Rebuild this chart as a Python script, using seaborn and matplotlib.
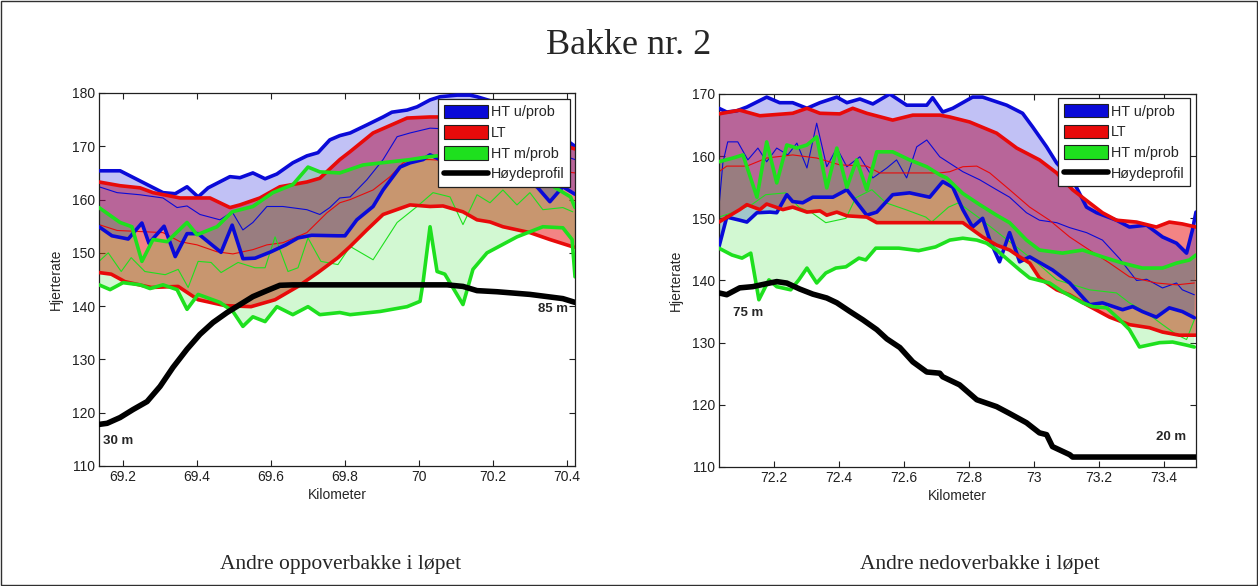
import numpy as np
import matplotlib
matplotlib.use("Agg")
import matplotlib.pyplot as plt
from matplotlib.patches import Patch, Rectangle
from matplotlib.lines import Line2D
import seaborn as sns

# ---------------------------------------------------------------
# Andre oppoverbakke (km 69.1 - 70.4)
# ---------------------------------------------------------------
UP_HU_HI_KM = [69.135, 69.192, 69.308, 69.341, 69.373, 69.403, 69.430, 69.489, 69.516, 69.551, 69.584,
               69.616, 69.659, 69.697, 69.727, 69.759, 69.786, 69.814, 69.859, 69.903, 69.927, 69.968,
               69.995, 70.030, 70.057, 70.103, 70.138, 70.157, 70.219, 70.300, 70.381, 70.422]
UP_HU_HI = [165.4, 165.4, 161.3, 161.1, 162.4, 160.5, 162.2, 164.3, 164.1, 165.0, 163.9,
            164.8, 166.9, 168.2, 168.8, 171.2, 172.0, 172.5, 174.0, 175.5, 176.4, 176.8,
            177.4, 178.7, 179.3, 179.6, 179.6, 179.3, 178.0, 175.0, 172.0, 170.0]

UP_HU_LO_KM = [69.135, 69.170, 69.214, 69.251, 69.270, 69.311, 69.341, 69.373, 69.403, 69.465, 69.495,
               69.524, 69.557, 69.600, 69.640, 69.673, 69.710, 69.781, 69.800, 69.832, 69.876, 69.903,
               69.949, 69.976, 70.011, 70.030, 70.057, 70.150, 70.250, 70.319, 70.354, 70.389, 70.422]
UP_HU_LO = [154.9, 153.2, 152.6, 155.6, 151.8, 155.0, 149.3, 153.6, 153.6, 150.1, 155.2,
            148.9, 149.0, 150.2, 151.5, 152.8, 153.3, 153.2, 153.2, 156.2, 158.7, 161.8,
            166.1, 166.9, 167.5, 168.4, 167.5, 166.0, 164.0, 162.4, 159.6, 162.4, 161.0]

UP_HU_MID_KM = [69.135, 69.184, 69.246, 69.308, 69.346, 69.373, 69.408, 69.462, 69.495, 69.524, 69.551,
                69.589, 69.632, 69.697, 69.732, 69.759, 69.786, 69.814, 69.859, 69.903, 69.941, 69.976,
                70.030, 70.150, 70.300, 70.422]
UP_HU_MID = [162.4, 161.3, 160.9, 160.3, 158.5, 158.8, 157.2, 156.2, 157.7, 154.3, 155.7,
             158.7, 158.7, 158.1, 157.2, 158.5, 160.3, 160.5, 163.7, 167.5, 171.8, 172.5,
             173.4, 173.0, 170.5, 167.5]

UP_LT_HI_KM = [69.135, 69.192, 69.246, 69.281, 69.354, 69.435, 69.489, 69.516, 69.570, 69.624, 69.697,
               69.732, 69.786, 69.814, 69.876, 69.968, 70.030, 70.057, 70.150, 70.250, 70.350, 70.422]
UP_LT_HI = [163.3, 162.6, 162.2, 161.3, 160.3, 160.3, 158.5, 159.0, 160.3, 162.4, 163.3,
            164.0, 167.5, 169.0, 172.5, 175.3, 175.5, 175.5, 175.0, 173.5, 171.0, 169.5]

UP_LT_LO_KM = [69.135, 69.168, 69.205, 69.276, 69.349, 69.403, 69.476, 69.546, 69.611, 69.673, 69.727,
               69.781, 69.814, 69.859, 69.903, 69.976, 70.030, 70.065, 70.119, 70.157, 70.192, 70.227,
               70.300, 70.354, 70.422]
UP_LT_LO = [146.3, 146.0, 144.6, 143.5, 143.7, 141.2, 140.1, 139.9, 141.2, 143.7, 146.3,
            149.1, 151.2, 154.3, 157.2, 159.0, 158.7, 158.8, 157.7, 156.2, 155.8, 154.9,
            153.8, 152.5, 151.0]

UP_LT_MID_KM = [69.135, 69.184, 69.246, 69.308, 69.354, 69.400, 69.454, 69.497, 69.551, 69.589, 69.632,
                69.697, 69.751, 69.786, 69.814, 69.876, 69.922, 69.957, 69.976, 70.030, 70.150, 70.300,
                70.422]
UP_LT_MID = [155.3, 154.2, 154.0, 153.8, 152.1, 151.5, 150.2, 149.8, 150.6, 151.5, 151.9,
             153.8, 157.5, 159.4, 160.0, 161.8, 164.3, 166.9, 167.5, 167.5, 167.0, 166.0,
             165.0]

UP_HM_HI_KM = [69.135, 69.192, 69.224, 69.251, 69.281, 69.319, 69.373, 69.400, 69.454, 69.495, 69.551,
               69.605, 69.659, 69.700, 69.732, 69.786, 69.849, 69.976, 70.022, 70.049, 70.150, 70.250,
               70.350, 70.410, 70.422]
UP_HM_HI = [158.5, 155.7, 154.9, 148.4, 152.5, 152.1, 155.7, 153.4, 154.9, 157.7, 158.7,
            161.3, 162.8, 166.1, 165.2, 165.0, 166.5, 167.5, 168.0, 168.2, 168.0, 166.0,
            163.0, 160.5, 158.5]

UP_HM_LO_KM = [69.135, 69.165, 69.200, 69.246, 69.273, 69.308, 69.346, 69.373, 69.403, 69.462, 69.497,
               69.524, 69.551, 69.584, 69.616, 69.659, 69.700, 69.732, 69.786, 69.814, 69.895, 69.968,
               70.003, 70.011, 70.030, 70.049, 70.070, 70.119, 70.146, 70.184, 70.265, 70.335, 70.389,
               70.414, 70.422]
UP_HM_LO = [144.0, 143.1, 144.4, 144.0, 143.3, 144.0, 143.1, 139.4, 142.2, 140.7, 139.0,
            136.2, 138.0, 137.1, 139.9, 138.4, 139.9, 138.4, 138.8, 138.4, 139.0, 139.9,
            140.9, 144.4, 154.9, 146.5, 146.0, 140.3, 146.9, 150.0, 153.0, 154.9, 154.7,
            152.5, 145.5]

UP_HM_MID_KM = [69.135, 69.160, 69.195, 69.222, 69.259, 69.314, 69.349, 69.376, 69.403, 69.438, 69.465,
                69.511, 69.557, 69.584, 69.611, 69.646, 69.673, 69.700, 69.735, 69.781, 69.814, 69.876,
                69.941, 69.995, 70.038, 70.084, 70.119, 70.157, 70.192, 70.227, 70.265, 70.300, 70.335,
                70.389, 70.416]
UP_HM_MID = [148.4, 150.0, 146.5, 149.1, 146.5, 145.9, 146.9, 143.5, 148.4, 148.2, 146.3,
             148.2, 147.2, 147.2, 153.0, 146.5, 147.2, 152.8, 148.4, 147.8, 151.2, 148.7,
             155.7, 158.7, 161.3, 160.5, 155.3, 160.9, 159.4, 161.8, 159.0, 161.3, 158.1,
             158.5, 157.7]

# terrain height in metres
UP_ELEV_KM = [69.135, 69.157, 69.192, 69.227, 69.265, 69.300, 69.335, 69.373, 69.408, 69.443, 69.481,
              69.516, 69.551, 69.589, 69.624, 69.659, 70.076, 70.119, 70.157, 70.211, 70.300, 70.389,
              70.422]
UP_ELEV_M = [30.0, 30.5, 33.1, 36.7, 40.3, 47.1, 55.7, 63.9, 70.6, 75.9, 80.4,
             84.0, 87.6, 90.3, 92.7, 92.9, 92.9, 92.2, 90.3, 89.8, 88.6, 86.7,
             85.0]

UP_XTICKS = [69.2, 69.4, 69.6, 69.8, 70.0, 70.2, 70.4]
UP_XTICKLABELS = ["69.2", "69.4", "69.6", "69.8", "70", "70.2", "70.4"]
UP_YTICKS = [110, 120, 130, 140, 150, 160, 170, 180]

# ---------------------------------------------------------------
# Andre nedoverbakke (km 72.0 - 73.5)
# ---------------------------------------------------------------
DN_HU_HI_KM = [72.031, 72.055, 72.086, 72.117, 72.178, 72.218, 72.258, 72.302, 72.342, 72.394, 72.425,
               72.465, 72.505, 72.557, 72.609, 72.671, 72.689, 72.720, 72.751, 72.812, 72.843, 72.917,
               72.966, 72.997, 73.040, 73.071, 73.120, 73.163, 73.194, 73.255, 73.295, 73.348, 73.397,
               73.440, 73.471, 73.489, 73.500]
DN_HU_HI = [167.7, 167.1, 167.3, 167.9, 169.5, 168.6, 168.6, 167.7, 168.6, 169.5, 168.6,
            169.2, 168.4, 170.0, 168.2, 168.2, 169.4, 167.1, 167.7, 169.5, 169.5, 168.2,
            166.9, 164.7, 161.5, 158.9, 156.2, 151.8, 150.9, 149.7, 148.6, 148.9, 147.0,
            146.0, 144.4, 148.1, 151.0]

DN_HU_LO_KM = [72.031, 72.055, 72.095, 72.117, 72.148, 72.188, 72.209, 72.240, 72.258, 72.289, 72.320,
               72.382, 72.425, 72.486, 72.517, 72.566, 72.618, 72.680, 72.720, 72.751, 72.782, 72.812,
               72.843, 72.865, 72.895, 72.926, 72.957, 72.988, 73.058, 73.111, 73.172, 73.212, 73.274,
               73.305, 73.335, 73.378, 73.418, 73.458, 73.495]
DN_HU_LO = [145.4, 150.2, 149.7, 149.4, 150.9, 151.0, 150.9, 153.8, 152.7, 152.5, 153.4,
            153.4, 154.6, 150.5, 151.0, 153.8, 154.1, 153.4, 155.9, 155.0, 151.4, 148.6,
            150.0, 146.5, 143.0, 147.7, 143.0, 143.8, 141.7, 139.6, 136.1, 136.4, 135.3,
            135.8, 135.0, 134.1, 135.6, 135.0, 134.0]

DN_HU_MID_KM = [72.031, 72.043, 72.058, 72.089, 72.120, 72.151, 72.178, 72.209, 72.243, 72.271, 72.302,
                72.332, 72.363, 72.394, 72.425, 72.465, 72.505, 72.548, 72.578, 72.609, 72.640, 72.671,
                72.711, 72.782, 72.834, 72.886, 72.926, 72.978, 73.018, 73.071, 73.111, 73.163, 73.212,
                73.265, 73.317, 73.348, 73.397, 73.440, 73.458, 73.495]
DN_HU_MID = [151.8, 158.9, 162.3, 162.3, 159.4, 161.3, 159.1, 161.3, 160.2, 162.1, 158.1,
             165.3, 158.3, 161.3, 158.3, 159.9, 156.5, 158.1, 159.4, 156.5, 161.5, 162.6,
             159.9, 157.5, 156.2, 154.6, 153.4, 150.9, 149.7, 149.3, 148.5, 147.7, 146.5,
             143.5, 140.0, 140.2, 138.8, 139.6, 138.5, 137.7]

DN_LT_HI_KM = [72.031, 72.095, 72.157, 72.258, 72.302, 72.342, 72.403, 72.443, 72.486, 72.566, 72.628,
               72.711, 72.742, 72.803, 72.886, 72.948, 73.018, 73.071, 73.120, 73.172, 73.212, 73.255,
               73.317, 73.378, 73.418, 73.458, 73.500]
DN_LT_HI = [166.8, 167.4, 166.5, 166.9, 167.7, 166.9, 166.8, 167.7, 166.9, 165.8, 166.6,
            166.6, 166.3, 165.5, 163.7, 161.3, 159.4, 157.3, 154.6, 152.5, 150.9, 149.7,
            149.4, 148.6, 149.4, 149.1, 148.6]

DN_LT_LO_KM = [72.031, 72.095, 72.117, 72.157, 72.178, 72.228, 72.258, 72.302, 72.342, 72.363, 72.394,
               72.425, 72.486, 72.517, 72.711, 72.782, 72.843, 72.886, 72.926, 72.957, 72.988, 73.018,
               73.071, 73.111, 73.163, 73.234, 73.295, 73.357, 73.397, 73.449, 73.500]
DN_LT_LO = [149.4, 151.4, 152.2, 151.4, 152.3, 151.4, 151.8, 151.0, 151.2, 150.5, 151.0,
            150.4, 150.2, 149.3, 149.3, 149.3, 147.0, 145.7, 144.9, 143.8, 142.8, 140.4,
            138.5, 137.7, 136.1, 134.1, 132.9, 132.4, 131.7, 131.2, 131.2]

DN_LT_MID_KM = [72.031, 72.055, 72.117, 72.178, 72.258, 72.332, 72.403, 72.486, 72.526, 72.711, 72.742,
                72.782, 72.825, 72.865, 72.926, 72.988, 73.049, 73.111, 73.172, 73.234, 73.295, 73.378,
                73.440, 73.495]
DN_LT_MID = [157.5, 158.4, 158.4, 159.7, 160.2, 159.7, 158.6, 158.4, 157.3, 157.3, 157.5,
             158.3, 158.4, 157.3, 154.6, 151.8, 149.7, 147.0, 144.9, 142.8, 140.6, 139.6,
             139.3, 139.6]

DN_HM_HI_KM = [72.031, 72.074, 72.105, 72.148, 72.178, 72.209, 72.240, 72.271, 72.302, 72.332, 72.363,
               72.394, 72.425, 72.455, 72.486, 72.517, 72.566, 72.618, 72.671, 72.711, 72.732, 72.782,
               72.834, 72.886, 72.926, 72.978, 73.018, 73.089, 73.151, 73.212, 73.274, 73.335, 73.397,
               73.440, 73.480, 73.500]
DN_HM_HI = [159.1, 159.7, 160.2, 153.4, 162.3, 155.7, 161.8, 161.3, 161.8, 163.1, 154.9,
            161.3, 155.0, 159.4, 154.6, 160.7, 160.7, 159.4, 158.3, 157.0, 156.5, 154.0,
            152.2, 150.5, 149.3, 146.5, 144.9, 144.4, 144.9, 143.8, 142.8, 142.0, 142.0,
            142.8, 143.3, 144.1]

DN_HM_LO_KM = [72.031, 72.071, 72.102, 72.129, 72.154, 72.185, 72.209, 72.252, 72.277, 72.302, 72.332,
               72.360, 72.391, 72.422, 72.462, 72.483, 72.514, 72.585, 72.646, 72.698, 72.742, 72.782,
               72.825, 72.855, 72.886, 72.957, 72.988, 73.049, 73.089, 73.151, 73.182, 73.225, 73.265,
               73.295, 73.326, 73.388, 73.428, 73.471, 73.495]
DN_HM_LO = [145.2, 144.1, 143.6, 144.4, 136.9, 140.1, 139.0, 138.5, 140.1, 142.0, 139.6,
            141.2, 142.0, 142.2, 143.6, 143.3, 145.2, 145.2, 144.8, 145.4, 146.5, 146.8,
            146.5, 146.0, 144.9, 141.7, 140.4, 139.6, 138.2, 136.4, 135.8, 135.6, 133.7,
            132.1, 129.3, 130.0, 130.1, 129.6, 129.3]

DN_HM_MID_KM = [72.031, 72.071, 72.132, 72.175, 72.237, 72.277, 72.317, 72.360, 72.422, 72.452, 72.502,
                72.545, 72.606, 72.668, 72.686, 72.738, 72.769, 72.834, 72.895, 72.957, 73.018, 73.071,
                73.172, 73.255, 73.295, 73.348, 73.397, 73.440, 73.471, 73.495]
DN_HM_MID = [150.2, 150.9, 152.2, 153.8, 154.1, 151.8, 150.9, 149.3, 150.0, 153.3, 154.6,
             152.5, 151.4, 150.2, 149.4, 151.8, 152.5, 150.0, 147.5, 145.0, 142.5, 140.1,
             138.5, 138.0, 136.4, 134.8, 132.9, 131.3, 130.5, 133.7]

DN_ELEV_KM = [72.031, 72.055, 72.095, 72.135, 72.178, 72.209, 72.240, 72.280, 72.320, 72.363, 72.394,
              72.434, 72.474, 72.517, 72.548, 72.588, 72.628, 72.671, 72.711, 72.720, 72.772, 72.825,
              72.886, 72.926, 72.978, 73.018, 73.040, 73.058, 73.111, 73.120, 73.500]
DN_ELEV_M = [75.0, 74.4, 76.7, 77.1, 78.1, 78.8, 78.3, 76.3, 74.6, 73.3, 71.7,
             68.8, 66.0, 62.7, 59.6, 56.7, 51.9, 48.5, 48.1, 46.9, 44.2, 39.2,
             36.9, 34.6, 31.5, 28.1, 27.5, 23.5, 20.8, 20.0, 20.0]

DN_XTICKS = [72.2, 72.4, 72.6, 72.8, 73.0, 73.2, 73.4]
DN_XTICKLABELS = ["72.2", "72.4", "72.6", "72.8", "73", "73.2", "73.4"]
DN_YTICKS = [110, 120, 130, 140, 150, 160, 170]

GROUP_LABELS = ["HT u/prob", "LT", "HT m/prob"]
PROFILE_LABEL = "Høydeprofil"
TITLE = "Bakke nr. 2"
CAPTIONS = ["Andre oppoverbakke i løpet", "Andre nedoverbakke i løpet"]

# ---------------------------------------------------------------
sns.set_theme(style="white")
plt.rcParams.update({
    "xtick.direction": "in", "ytick.direction": "in",
    "xtick.top": True, "ytick.right": True,
    "xtick.bottom": True, "ytick.left": True,
    "xtick.major.size": 4, "ytick.major.size": 4,
    "xtick.major.width": 0.8, "ytick.major.width": 0.8,
    "xtick.major.pad": 3, "ytick.major.pad": 3,
    "axes.edgecolor": "#202020", "axes.linewidth": 0.9,
})
plt.rcParams["font.family"] = ["Liberation Sans", "DejaVu Sans"]

SERIF = ["Liberation Serif", "DejaVu Serif"]
COLORS = {"hu": "#0a0ad8", "lt": "#e80a0a", "hm": "#1ee01e"}
FILL_ALPHA = {"hu": 0.25, "lt": 0.5, "hm": 0.2}


def band(hi_km, hi, lo_km, lo, mid_km, mid):
    return [(np.asarray(hi_km), np.asarray(hi)),
            (np.asarray(lo_km), np.asarray(lo)),
            (np.asarray(mid_km), np.asarray(mid))]


def draw_panel(ax, bands, prof_km, prof_m, prof_map, xlim, ylim, xticks, xticklabels, yticks,
               start_note, end_note, legend_anchor):
    # translucent spread bands
    for key in ("lt", "hu", "hm"):
        (xh, yh), (xl, yl), _ = bands[key]
        ax.fill(np.r_[xh, xl[::-1]], np.r_[yh, yl[::-1]], color=COLORS[key],
                alpha=FILL_ALPHA[key], lw=0, zorder=1)
    # mean curves
    for key in ("hu", "lt", "hm"):
        xm, ym = bands[key][2]
        sns.lineplot(x=xm, y=ym, ax=ax, color=COLORS[key], lw=0.8,
                     estimator=None, sort=False, zorder=2)
    # upper / lower envelopes
    for key in ("hu", "lt", "hm"):
        for xs, ys in bands[key][:2]:
            sns.lineplot(x=xs, y=ys, ax=ax, color=COLORS[key], lw=2.6,
                         estimator=None, sort=False, zorder=3)
    # terrain profile, scaled onto the heart-rate axis
    prof_m = np.asarray(prof_m)
    prof_y = prof_map[0] + prof_map[1] * prof_m
    sns.lineplot(x=prof_km, y=prof_y, ax=ax, color="black", lw=4.0,
                 estimator=None, sort=False, zorder=4)
    ax.text(start_note[0], start_note[1], f"{prof_m[0]:.0f} m", ha=start_note[2],
            va="center", fontsize=9.5, fontweight="bold", zorder=5)
    ax.text(end_note[0], end_note[1], f"{prof_m[-1]:.0f} m", ha=end_note[2],
            va="center", fontsize=9.5, fontweight="bold", zorder=5)

    ax.set_xlim(*xlim)
    ax.set_ylim(*ylim)
    ax.set_xticks(xticks)
    ax.set_xticklabels(xticklabels)
    ax.set_yticks(yticks)
    ax.tick_params(labelsize=10, colors="#202020")
    ax.set_xlabel("Kilometer", fontsize=10, labelpad=3)
    ax.set_ylabel("Hjerterate", fontsize=10, labelpad=6)
    for sp in ax.spines.values():
        sp.set_visible(True)

    handles = [Patch(facecolor=COLORS[k], edgecolor="#202020", lw=0.8) for k in ("hu", "lt", "hm")]
    handles.append(Line2D([], [], color="black", lw=4.0))
    leg = ax.legend(handles, GROUP_LABELS + [PROFILE_LABEL], loc="upper right",
                    bbox_to_anchor=legend_anchor, borderaxespad=0, fontsize=10.4,
                    frameon=True, fancybox=False, framealpha=1, edgecolor="#202020",
                    handlelength=3.1, handleheight=1.05, handletextpad=0.15,
                    labelspacing=0.42, borderpad=0.4)
    leg.get_frame().set_linewidth(0.9)
    leg.set_zorder(10)


fig = plt.figure(figsize=(12.58, 5.86), dpi=100)
ax_up = fig.add_axes([0.0787, 0.2048, 0.3784, 0.6365])
ax_dn = fig.add_axes([0.5715, 0.2031, 0.3792, 0.6365])

up_bands = {
    "hu": band(UP_HU_HI_KM, UP_HU_HI, UP_HU_LO_KM, UP_HU_LO, UP_HU_MID_KM, UP_HU_MID),
    "lt": band(UP_LT_HI_KM, UP_LT_HI, UP_LT_LO_KM, UP_LT_LO, UP_LT_MID_KM, UP_LT_MID),
    "hm": band(UP_HM_HI_KM, UP_HM_HI, UP_HM_LO_KM, UP_HM_LO, UP_HM_MID_KM, UP_HM_MID),
}
dn_bands = {
    "hu": band(DN_HU_HI_KM, DN_HU_HI, DN_HU_LO_KM, DN_HU_LO, DN_HU_MID_KM, DN_HU_MID),
    "lt": band(DN_LT_HI_KM, DN_LT_HI, DN_LT_LO_KM, DN_LT_LO, DN_LT_MID_KM, DN_LT_MID),
    "hm": band(DN_HM_HI_KM, DN_HM_HI, DN_HM_LO_KM, DN_HM_LO, DN_HM_MID_KM, DN_HM_MID),
}

draw_panel(ax_up, up_bands, UP_ELEV_KM, UP_ELEV_M, (105.31, 0.4164),
           (69.135, 70.422), (110, 180), UP_XTICKS, UP_XTICKLABELS, UP_YTICKS,
           (69.146, 114.6, "left"), (70.403, 139.4, "right"), (0.9895, 0.984))
draw_panel(ax_dn, dn_bands, DN_ELEV_KM, DN_ELEV_M, (102.0, 0.48),
           (72.031, 73.5), (110, 170), DN_XTICKS, DN_XTICKLABELS, DN_YTICKS,
           (72.074, 134.8, "left"), (73.471, 114.9, "right"), (0.9874, 0.989))

fig.text(0.5, 1 - 45 / 586, TITLE, ha="center", va="center", fontsize=26, family=SERIF)
fig.text(341 / 1258, 1 - 565 / 586, CAPTIONS[0], ha="center", va="center", fontsize=15.5, family=SERIF)
fig.text(980 / 1258, 1 - 565 / 586, CAPTIONS[1], ha="center", va="center", fontsize=15.5, family=SERIF)

fig.patches.append(Rectangle((0.0008, 0.0015), 0.9984, 0.997, transform=fig.transFigure,
                             fill=False, edgecolor="#303030", lw=1.0))

fig.savefig("out.png", dpi=100, facecolor="white")
